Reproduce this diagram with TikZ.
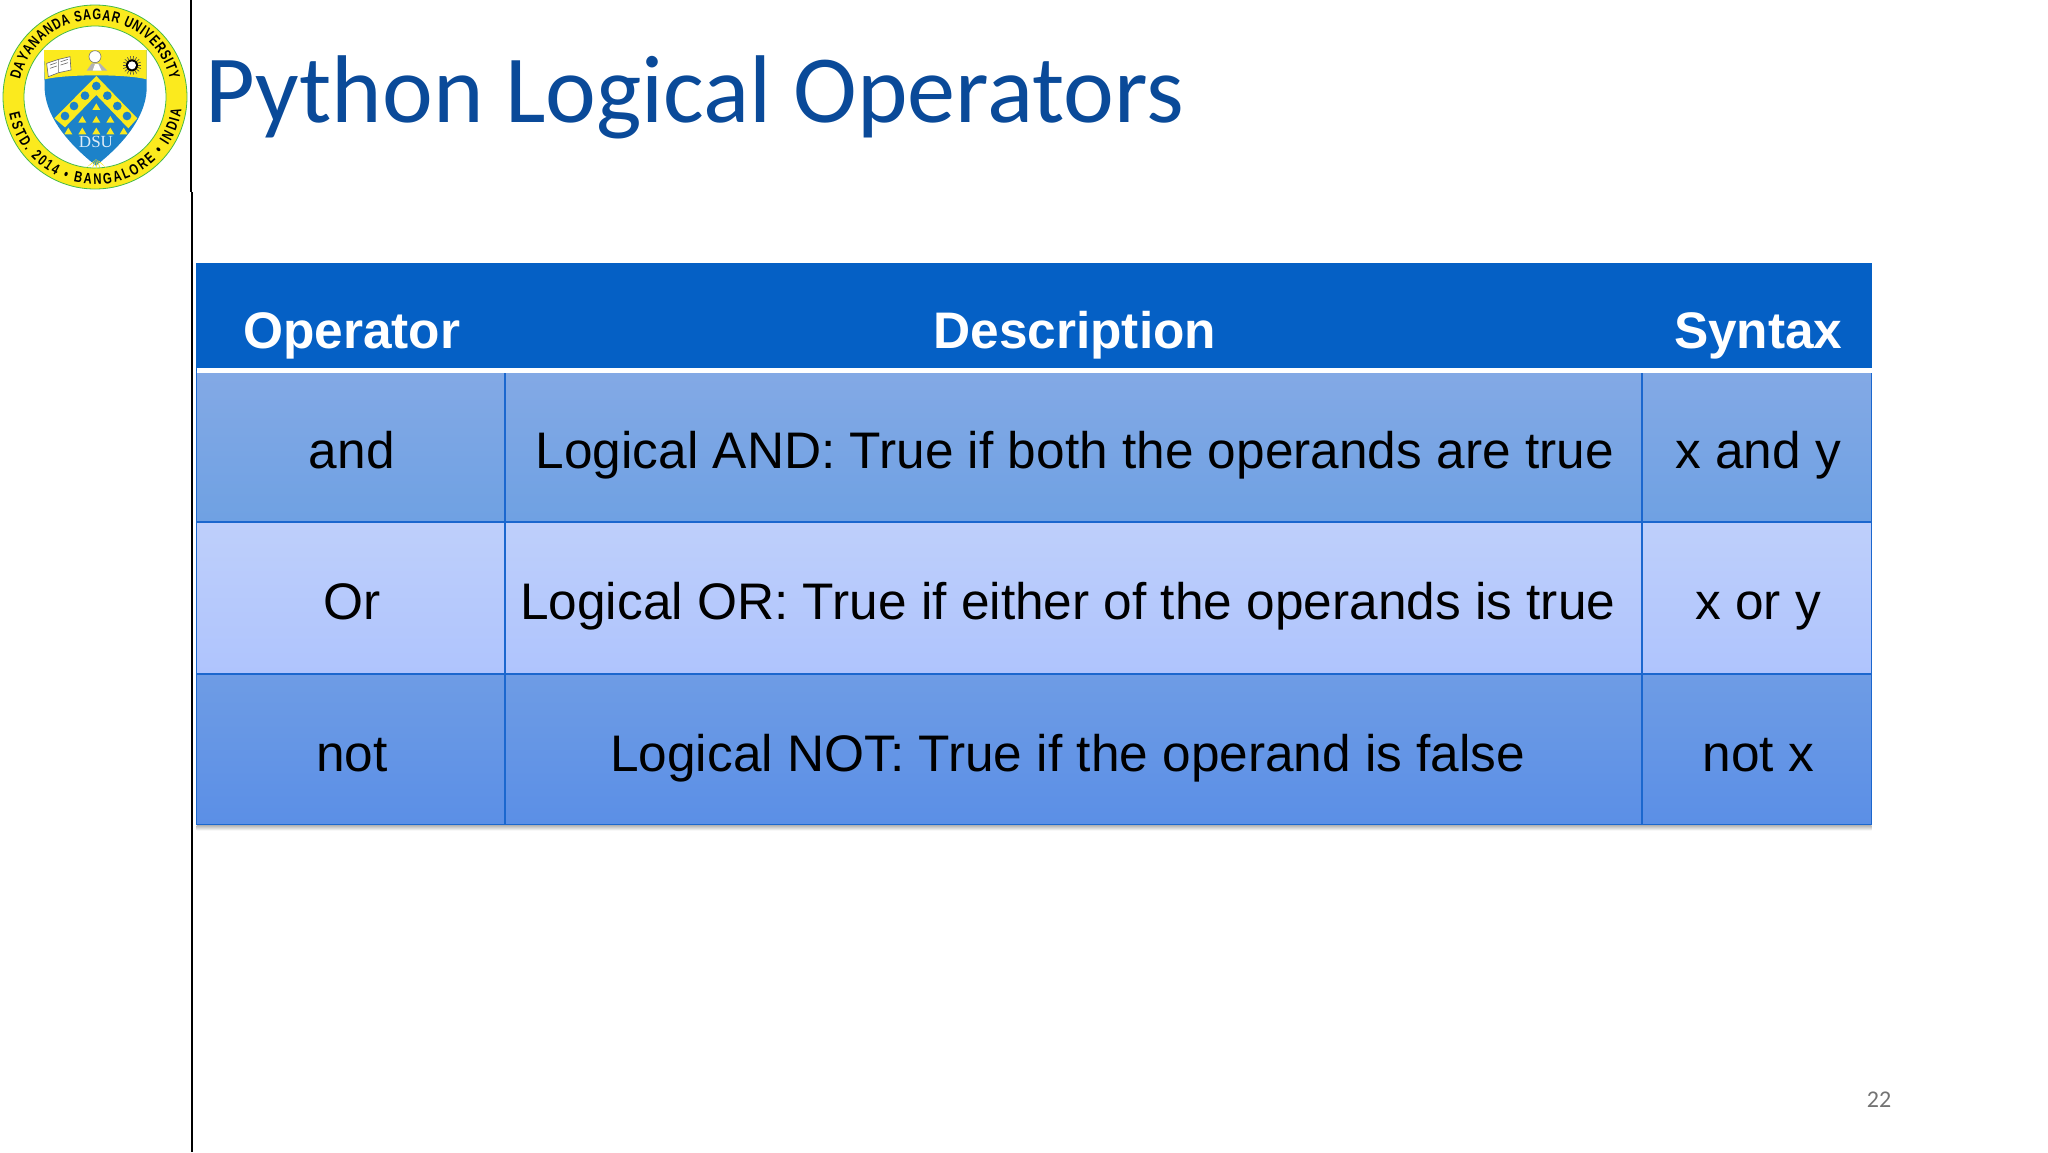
\documentclass[tikz,border=0pt]{standalone}
\usepackage{fontspec}
\usepackage{tikz}
\usetikzlibrary{matrix}
\usetikzlibrary{decorations.text}
\newfontfamily\bodyfont{Liberation Sans}
\newfontfamily\slidefont{Carlito}
\newfontfamily\crestfont{Liberation Serif}
\newfontfamily\ringfont[FakeStretch=.74]{Liberation Sans}
\definecolor{titleblue}{HTML}{0A4A99}
\definecolor{headblue}{HTML}{0560C5}
\definecolor{gridblue}{HTML}{1B67CE}
\definecolor{crestblue}{HTML}{1C82C9}
\definecolor{crestyellow}{HTML}{FBEA1E}
\tikzset{
  cell/.style={draw=gridblue,line width=.5pt,inner sep=0pt,outer sep=0pt,anchor=center,
    font=\bodyfont\fontsize{25.7}{30}\selectfont,text=black,minimum height=75.25pt,
    text height=27.8pt,text depth=6pt,execute at begin node=\hspace*{1.3pt}},
  headcell/.style={draw=headblue,fill=headblue,text=white,minimum height=53.25pt,
    font=\bodyfont\bfseries\fontsize{25.7}{30}\selectfont,text height=38pt,text depth=6pt},
  rowand/.style={top color=rowandtop,bottom color=rowandbot},
  rowor/.style={top color=rowortop,bottom color=roworbot},
  rownot/.style={top color=rownottop,bottom color=rownotbot},
  ringtext/.style={decorate,decoration={text along path,text align={fit to path},
    text={|\ringfont\bfseries\fontsize{7.6}{9}\selectfont|#1}}}
}
\definecolor{rowandtop}{HTML}{83A9E5}
\definecolor{rowandbot}{HTML}{6FA1E3}
\definecolor{rowortop}{HTML}{BECFFB}
\definecolor{roworbot}{HTML}{AFC4FD}
\definecolor{rownottop}{HTML}{6E9CE5}
\definecolor{rownotbot}{HTML}{5B8FE6}
\begin{document}
\begin{tikzpicture}[x=.5pt,y=-.5pt]
\useasboundingbox (0,0) rectangle (2048,1152);
\draw[line width=.7pt] (191,0) -- (191,192);
\draw[line width=1.1pt] (192,192) -- (192,1152);
\node[anchor=base west,text=titleblue,font=\slidefont\fontsize{48.1}{52}\selectfont,inner sep=0pt] (title) at (205,122) {Python Logical Operators};
\matrix (m) [matrix of nodes,anchor=north west,inner sep=0pt,outer sep=0pt,row sep=0pt,column sep=0pt,
  nodes={cell},
  column 1/.style={nodes={minimum width=154pt}},
  column 2/.style={nodes={minimum width=568pt}},
  column 3/.style={nodes={minimum width=114.5pt}},
  row 1/.style={nodes={headcell}},
  row 2/.style={nodes={rowand}},
  row 3/.style={nodes={rowor}},
  row 4/.style={nodes={rownot}}] at (196,263)
  {
     Operator & Description & Syntax \\
     and & Logical AND: True if both the operands are true & x and y \\
     Or & Logical OR: True if either of the operands is true\rule{7pt}{0pt} & x or y \\
     not & Logical NOT: True if the operand is false\rule{7pt}{0pt} & not x \\
  };
\draw[white,line width=2.5pt] ([yshift=-.3pt]m-1-1.south west) -- ([yshift=-.3pt]m-1-3.south east);
\shade[top color=black!30,bottom color=white] ([yshift=-.3pt]m-4-1.south west) rectangle ([yshift=-3pt]m-4-3.south east);
\node[anchor=base,text=black!55,font=\slidefont\fontsize{12}{14}\selectfont,inner sep=0pt] (pageno) at (1879,1107) {22};
% crest
\begin{scope}[shift={(95,97)},y=.5pt]
  \fill[crestyellow,draw=green!45!gray,line width=.4pt] (0,0) circle[radius=92];
  \fill[white,draw=green!45!gray,line width=.4pt] (0,0) circle[radius=71];
  \path[ringtext=DAYANANDA SAGAR UNIVERSITY] (167:77) arc[start angle=167,end angle=13,radius=77];
  \path[ringtext=ESTD. 2014 • BANGALORE • INDIA] (191:87.5) arc[start angle=191,end angle=352,radius=87.5];
\end{scope}
\begin{scope}[x=.5pt/3,y=-.5pt/3]
  \fill[crestblue] (132,150) -- (440,150) -- (440,270) .. controls (435,360) and (360,440) .. (288,497)
    .. controls (216,440) and (140,360) .. (134,270) -- cycle;
  \fill[crestyellow] (132,150) -- (440,150) -- (440,238) .. controls (380,222) and (200,222) .. (134,238) -- cycle;
  \fill[crestyellow] (289,228) -- (412,355) -- (385,385) -- (289,285) -- (195,382) -- (163,355) -- cycle;
  \foreach \cx/\cy in {289/258,255/287,222/318,195/348,322/287,352/318,381/348}
    \fill[crestblue] (\cx,\cy) circle[radius=13];
  \foreach \tx/\ty in {289/320,247/358,289/358,331/358,205/393,247/393,289/393,331/393,371/393}
    \fill[crestyellow] (\tx-12,\ty+10) -- (\tx+12,\ty+10) -- (\tx,\ty-10) -- cycle;
  \node[text=white!85!crestblue,font=\crestfont\fontsize{8.5}{10}\selectfont,inner sep=0pt] (dsu) at (288,427) {DSU};
  \foreach \ang in {-50,-25,0,25,50}
    \fill[crestyellow] (288,478) -- ++(\ang-90:-4) .. controls ++(\ang-115:-18) and ++(\ang-65:-18) .. ++(\ang-90:-34) -- cycle;
  % book
  \fill[white,draw=black!60,line width=.3pt] (140,190) -- (176,178) -- (210,170) -- (213,210) -- (176,218) -- (145,230) -- cycle;
  \draw[black!60,line width=.3pt] (176,178) -- (176,218) (150,195) -- (170,188) (150,205) -- (170,198) (182,185) -- (204,178) (182,195) -- (204,188);
  % figure
  \fill[white,draw=black!55,line width=.3pt] (285,170) circle[radius=18];
  \fill[black!30] (260,212) -- (275,190) -- (300,190) -- (322,212) -- cycle;
  \fill[white] (278,212) -- (285,192) -- (295,192) -- (305,212) -- cycle;
  % sun
  \foreach \ang in {0,20,...,340}
    \draw[black!70,line width=.3pt] (396,196) -- ++(\ang:28);
  \fill[black] (396,196) circle[radius=18];
  \fill[white] (396,196) circle[radius=12];
\end{scope}
\end{tikzpicture}
\end{document}
